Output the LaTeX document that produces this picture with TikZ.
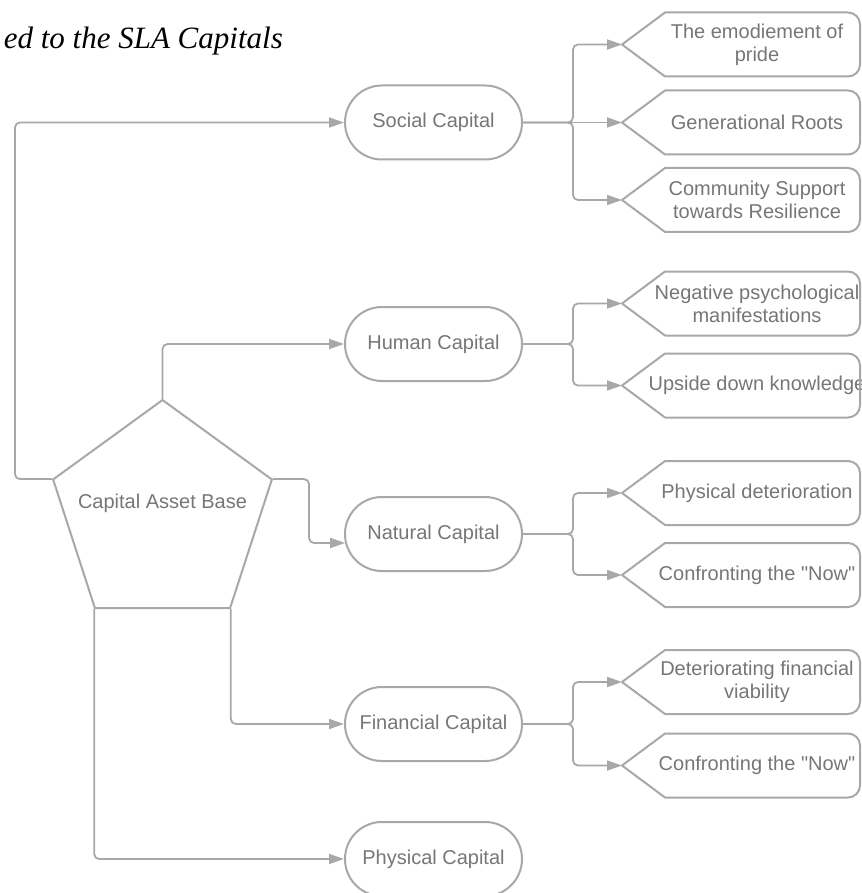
\documentclass[tikz,border=0pt]{standalone}
\usepackage{fontspec}
\setmainfont{Liberation Sans}
\newfontfamily\bodyfont{Liberation Sans}
\newfontfamily\titlefont{Liberation Serif}
\usetikzlibrary{arrows.meta,shapes.geometric,calc}
\definecolor{lg}{RGB}{168,168,168}
\definecolor{tg}{RGB}{118,118,118}
\tikzset{
  txt/.style={text=tg, font=\bodyfont\fontsize{20}{23}\selectfont, align=center, inner sep=0pt},
  pill/.style={txt, draw=lg, line width=2pt, minimum width=177pt, minimum height=74pt, rounded corners=36.9pt},
  boxline/.style={draw=lg, line width=2pt, line join=round},
  conn/.style={draw=lg, line width=1.8pt, rounded corners=5pt, -{Triangle[length=15pt,width=10pt]}},
  link/.style={draw=lg, line width=1.8pt, rounded corners=5pt}
}
\newcommand\leafbox[3]{%
  \node[txt] (#1) at (757,#2) {#3};
  \coordinate (#1-tip) at (622,#2);
  \draw[boxline] (#1-tip) -- (665,#2+32) -- (848,#2+32)
     arc[start angle=90,end angle=0,radius=12] -- (860,#2-20)
     arc[start angle=0,end angle=-90,radius=12] -- (665,#2-32) -- cycle;
}
\begin{document}
\begin{tikzpicture}[x=1pt,y=1pt]
\useasboundingbox (0,0) rectangle (861,-893);

% title
\node[anchor=base east, inner sep=0pt, font=\titlefont\itshape\fontsize{31}{36}\selectfont] (title) at (283,-49) {ed to the SLA Capitals};

% pentagon
\node[regular polygon, regular polygon sides=5, minimum size=230pt, inner sep=0pt, draw=lg, line width=2pt] (cab) at (162.5,-515) {};
\node[txt] (cabtext) at (162.5,-503) {Capital Asset Base};

% capitals
\node[pill] (social) at (433.5,-122.5) {Social Capital};
\node[pill] (human) at (433.5,-344) {Human Capital};
\node[pill] (natural) at (433.5,-534) {Natural Capital};
\node[pill] (financial) at (433.5,-724) {Financial Capital};
\node[pill] (physical) at (433.5,-859) {Physical Capital};

% leaves
\leafbox{b1}{-44.5}{The emodiement of\\pride}
\leafbox{b2}{-122.5}{Generational Roots}
\leafbox{b3}{-200}{Community Support\\towards Resilience}
\leafbox{b4}{-303.5}{Negative psychological\\manifestations}
\leafbox{b5}{-385.5}{Upside down knowledge}
\leafbox{b6}{-493}{Physical deterioration}
\leafbox{b7}{-575}{Confronting the "Now"}
\leafbox{b8}{-682}{Deteriorating financial\\viability}
\leafbox{b9}{-765.5}{Confronting the "Now"}

% pentagon connectors
\coordinate (natin) at ($(natural.west)+(1.1,-9)$);
\draw[conn] (cab.corner 2) -- ++(-37,0) |- (social.west);
\draw[conn] (cab.corner 1) |- (human.west);
\draw[conn] (cab.corner 5) -- ++(36,0) |- (natin);
\draw[conn] (cab.corner 4) |- (financial.west);
\draw[conn] (cab.corner 3) |- (physical.west);

% branch connectors
\draw[conn] (social.east) -- (b2-tip);
\draw[conn] (social.east) -- ++(50,0) |- (b1-tip);
\draw[conn] (social.east) -- ++(50,0) |- (b3-tip);
\draw[conn] (human.east) -- ++(50,0) |- (b4-tip);
\draw[conn] (human.east) -- ++(50,0) |- (b5-tip);
\draw[conn] (natural.east) -- ++(50,0) |- (b6-tip);
\draw[conn] (natural.east) -- ++(50,0) |- (b7-tip);
\draw[conn] (financial.east) -- ++(50,0) |- (b8-tip);
\draw[conn] (financial.east) -- ++(50,0) |- (b9-tip);
\end{tikzpicture}
\end{document}
